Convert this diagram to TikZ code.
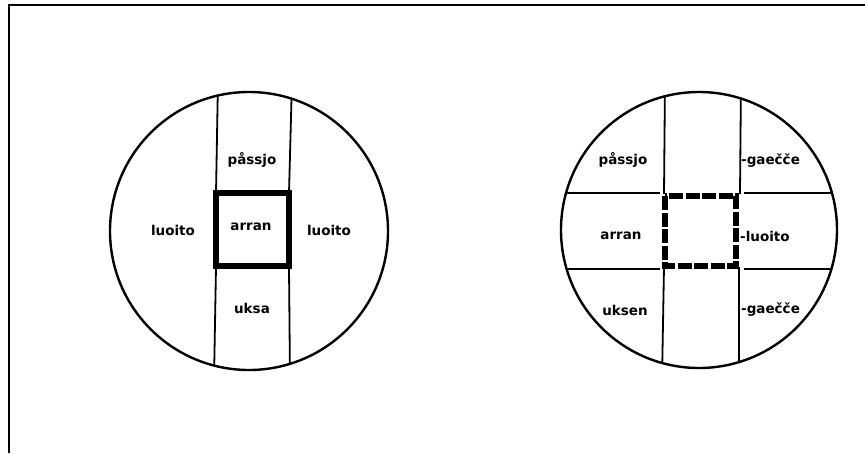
\documentclass[tikz,border=0pt]{standalone}
\usepackage{fontspec}
\setmainfont{DejaVu Sans}
\begin{document}
\begin{tikzpicture}[x=1pt,y=-1pt,
  lbl/.style={font=\bfseries\fontsize{13.5}{15}\selectfont, inner sep=0pt},
  rim/.style={line width=2.4pt},
  grid/.style={line width=1.8pt},
  door/.style={line width=5.5pt},
  doorbroken/.style={line width=5.5pt, dash pattern=on 14pt off 2.5pt}]
\useasboundingbox (0,0) rectangle (865,453);
% frame
\draw[line width=2.5pt] (9,453) -- (9,5) -- (865,5);
% ---------- left circle ----------
\coordinate (lc) at (249,231);
\begin{scope}
  \clip (lc) circle[radius=139];
  \draw[grid] (218,80) -- (216,193) (216,267) -- (214,380);
  \draw[grid] (292,80) -- (289,193) (289,267) -- (290,380);
\end{scope}
\draw[rim] (lc) circle[radius=139];
\draw[door] (216,193) rectangle (289,266);
\node[lbl] (lp) at (252,160) {påssjo};
\node[lbl] (la) at (251,227) {arran};
\node[lbl] (ll) at (173,230) {luoito};
\node[lbl] (lr) at (329,230) {luoito};
\node[lbl] (lu) at (252,308) {uksa};
% ---------- right circle ----------
\coordinate (rc) at (699,230);
\begin{scope}
  \clip (rc) circle[radius=138];
  \draw[grid] (665,80) -- (664,194) (664,267) -- (662,380);
  \draw[grid] (741,80) -- (740,194) (739,267) -- (739,380);
  \draw[grid] (550,193) -- (660,193) (744,193) -- (850,193);
  \draw[grid] (550,269) -- (660,269) (744,269) -- (850,269);
\end{scope}
\draw[rim] (rc) circle[radius=138];
\draw[doorbroken] (665,196) rectangle (736,266);
\node[lbl] (rp) at (623,160) {påssjo};
\node[lbl] (ra) at (621,236) {arran};
\node[lbl] (ru) at (625,310) {uksen};
\node[lbl,anchor=west] (rg1) at (741,161) {-gaečče};
\node[lbl,anchor=west] (rl) at (740,236) {-luoito};
\node[lbl,anchor=west] (rg2) at (741,310) {-gaečče};
\end{tikzpicture}
\end{document}
